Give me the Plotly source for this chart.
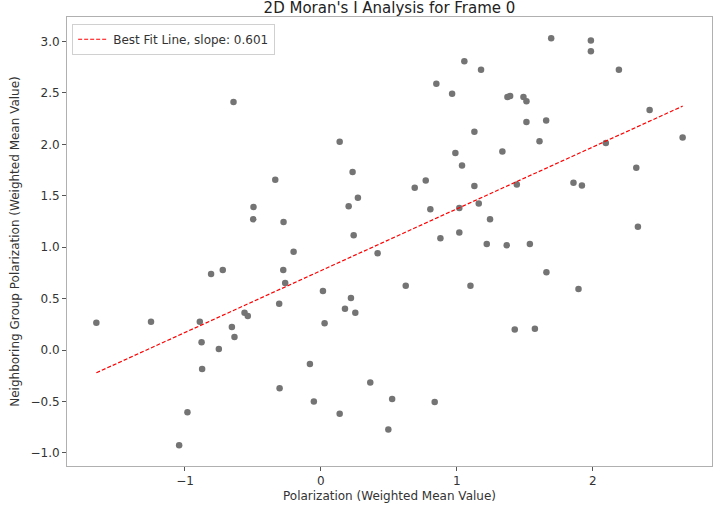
import plotly.graph_objects as go

# Data
polarization = [
    -0.643, 0.138, 0.233, -0.336, 0.272, 0.204, -0.496, -0.498, -0.275, 0.241,
    1.694, 1.055, 1.178, 0.849, 0.965, 1.372, 1.392, 1.490, 1.512, 1.512,
    1.657, 1.129, 1.608, 0.989, 1.335, 1.038, 0.771, 0.690, 1.129, 1.441,
    0.805, 1.018, 1.161, 1.244, 0.879, 1.018, 1.220, 1.367, 1.537, 1.986,
    1.986, 2.192, 2.418, 2.661, 2.096, 2.320, 1.858, 1.920, 2.332, -0.808,
    -0.722, -1.652, -1.250, -0.891, -0.655, -0.878, -0.751, -0.874, -0.982, -1.043,
    -0.201, 0.417, -0.277, -0.263, 0.015, -0.307, 0.221, 0.177, 0.253, -0.562,
    -0.538, -0.636, 0.027, -0.081, -0.304, -0.052, 0.138, 0.363, 0.524, 0.496,
    1.659, 0.624, 1.100, 1.426, 1.574, 0.837, 1.895,
]
neighbor_polarization = [
    2.412, 2.025, 1.730, 1.655, 1.480, 1.399, 1.392, 1.272, 1.246, 1.117,
    3.032, 2.807, 2.726, 2.590, 2.493, 2.460, 2.470, 2.460, 2.418, 2.217,
    2.233, 2.123, 2.029, 1.915, 1.931, 1.795, 1.649, 1.577, 1.594, 1.610,
    1.370, 1.380, 1.425, 1.272, 1.087, 1.142, 1.032, 1.019, 1.032, 3.009,
    2.905, 2.726, 2.334, 2.067, 2.013, 1.772, 1.626, 1.600, 1.198, 0.740,
    0.779, 0.266, 0.276, 0.276, 0.224, 0.075, 0.010, -0.185, -0.604, -0.925,
    0.957, 0.941, 0.779, 0.652, 0.574, 0.451, 0.506, 0.402, 0.363, 0.363,
    0.331, 0.127, 0.260, -0.136, -0.370, -0.500, -0.620, -0.315, -0.475, -0.772,
    0.757, 0.626, 0.626, 0.201, 0.208, -0.506, 0.594,
]
fit_slope = 0.601
fit_intercept = 0.772

x_line = [min(polarization), max(polarization)]
y_line = [fit_slope * v + fit_intercept for v in x_line]

font_family = "DejaVu Sans, Liberation Sans, sans-serif"

fig = go.Figure()
fig.add_trace(go.Scatter(
    x=polarization, y=neighbor_polarization, mode="markers",
    marker=dict(color="#747474", size=6.5, line=dict(width=0)),
    showlegend=False, hoverinfo="x+y",
))
fig.add_trace(go.Scatter(
    x=x_line, y=y_line, mode="lines",
    line=dict(color="red", width=1.2, dash="4px,2px"),
    name=f"Best Fit Line, slope: {fit_slope:.3f}",
))

axis_common = dict(
    showgrid=False, zeroline=False, showline=True, mirror=True, automargin=False,
    linecolor="#b0b0b0", linewidth=1, ticks="outside", ticklen=4,
    tickcolor="#555555", tickfont=dict(size=12, color="#333333", family=font_family),
)

fig.update_layout(
    width=714, height=508,
    margin=dict(l=67, r=2, t=17, b=42, autoexpand=False),
    paper_bgcolor="white", plot_bgcolor="white",
    font=dict(family=font_family, color="#333333"),
    title=dict(text="2D Moran's I Analysis for Frame 0", x=389.5 / 714, xanchor="center",
               yref="container", y=1 - 8 / 508, yanchor="middle", automargin=False,
               font=dict(size=15, color="#222222")),
    xaxis=dict(range=[-1.868, 2.877], tickmode="array", tickvals=[-1, 0, 1, 2],
               title=dict(text="Polarization (Weighted Mean Value)", standoff=4,
                          font=dict(size=12, color="#333333")),
               **axis_common),
    yaxis=dict(range=[-1.127, 3.238], dtick=0.5, tick0=0, tickformat=".1f",
               title=dict(text="Neighboring Group Polarization (Weighted Mean Value)", standoff=8,
                          font=dict(size=12, color="#333333")),
               **axis_common),
    legend=dict(x=0.008, y=0.985, xanchor="left", yanchor="top",
                bgcolor="rgba(255,255,255,0.9)", bordercolor="#d0d0d0", borderwidth=1,
                font=dict(size=12, color="#333333"), tracegroupgap=0),
)

fig.write_html("out.html", config={"displayModeBar": False},
               post_script="document.body.style.margin='0';document.body.style.overflow='hidden';")
